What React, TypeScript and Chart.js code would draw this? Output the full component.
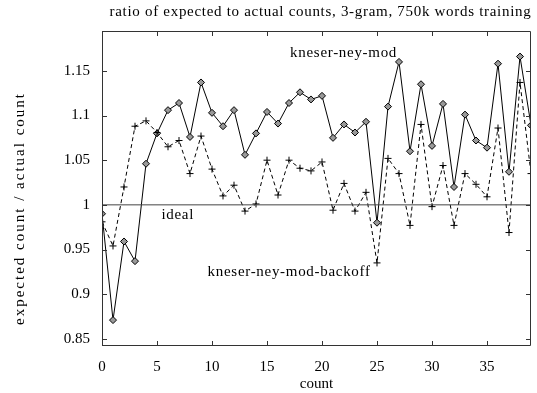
import React, { useEffect, useRef } from "react";
import { Chart, registerables } from "chart.js";

Chart.register(...registerables);

const titleText = "ratio of expected to actual counts, 3-gram, 750k words training";
const xTitle = "count";
const yTitle = "expected count / actual count";

const counts = [
  0, 1, 2, 3, 4, 5, 6, 7, 8, 9, 10, 11, 12, 13, 14, 15, 16, 17, 18, 19,
  20, 21, 22, 23, 24, 25, 26, 27, 28, 29, 30, 31, 32, 33, 34, 35, 36, 37, 38, 39,
];

const kneserNeyMod = [
  0.990, 0.871, 0.959, 0.937, 1.046, 1.080, 1.106, 1.114, 1.076, 1.137,
  1.103, 1.088, 1.106, 1.056, 1.080, 1.104, 1.091, 1.114, 1.126, 1.118,
  1.122, 1.075, 1.090, 1.081, 1.093, 0.980, 1.110, 1.160, 1.060, 1.135,
  1.066, 1.113, 1.020, 1.101, 1.072, 1.064, 1.158, 1.037, 1.166, 1.089,
];

const kneserNeyModBackoff = [
  0.981, 0.954, 1.020, 1.088, 1.094, 1.081, 1.065, 1.072, 1.035, 1.077,
  1.040, 1.010, 1.022, 0.993, 1.001, 1.050, 1.011, 1.050, 1.041, 1.038,
  1.048, 0.994, 1.024, 0.993, 1.014, 0.935, 1.052, 1.035, 0.977, 1.090,
  0.998, 1.044, 0.977, 1.035, 1.023, 1.009, 1.086, 0.969, 1.137, 1.035,
];

const idealValue = 1;

const xTicks = [0, 5, 10, 15, 20, 25, 30, 35];
const yTicks = [0.85, 0.9, 0.95, 1, 1.05, 1.1, 1.15];

// text labels placed in data coordinates: [text, x, y]
const labels: [string, number, number][] = [
  ["kneser-ney-mod", 17.1, 1.170],
  ["kneser-ney-mod-backoff", 9.6, 0.925],
  ["ideal", 5.4, 0.989],
];

const FONT = '"Liberation Serif", "Times New Roman", serif';

const framePlugin = {
  id: "gnuplotFrame",
  afterDatasetsDraw(chart: any) {
    const { ctx, chartArea, scales } = chart;
    const { left, right, top, bottom } = chartArea;
    const xs = scales.x;
    const ys = scales.y;
    ctx.save();
    ctx.strokeStyle = "#333";
    ctx.lineWidth = 1;
    ctx.beginPath();
    ctx.rect(left + 0.5, top + 0.5, right - left - 1, bottom - top - 1);
    ctx.stroke();
    const tl = 5;
    ctx.beginPath();
    xTicks.forEach((v) => {
      const px = Math.round(xs.getPixelForValue(v)) + 0.5;
      ctx.moveTo(px, bottom);
      ctx.lineTo(px, bottom - tl);
      ctx.moveTo(px, top);
      ctx.lineTo(px, top + tl);
    });
    yTicks.forEach((v) => {
      const py = Math.round(ys.getPixelForValue(v)) + 0.5;
      ctx.moveTo(left, py);
      ctx.lineTo(left + tl, py);
      ctx.moveTo(right, py);
      ctx.lineTo(right - tl, py);
    });
    ctx.stroke();

    ctx.fillStyle = "#000";
    ctx.font = `15px ${FONT}`;
    ctx.textBaseline = "middle";
    ctx.textAlign = "left";
    (ctx as any).letterSpacing = "0.7px";
    labels.forEach(([t, x, y]) => {
      ctx.fillText(t, xs.getPixelForValue(x), ys.getPixelForValue(y));
    });

    ctx.textAlign = "center";
    ctx.fillText(titleText, (left + right) / 2 + 4, 12);

    // y axis title, rotated
    (ctx as any).letterSpacing = "2px";
    ctx.translate(20, (top + bottom) / 2 + 20);
    ctx.rotate(-Math.PI / 2);
    ctx.fillText(yTitle, 0, 0);
    ctx.restore();
  },
};

export default function App() {
  const ref = useRef<HTMLCanvasElement | null>(null);

  useEffect(() => {
    document.body.style.margin = "0";
    const canvas = ref.current;
    if (!canvas) return;
    const toPts = (arr: number[]) => counts.map((c, i) => ({ x: c, y: arr[i] }));
    const chart = new Chart(canvas, {
      type: "line",
      data: {
        datasets: [
          {
            label: "ideal",
            data: [
              { x: counts[0], y: idealValue },
              { x: counts[counts.length - 1], y: idealValue },
            ],
            borderColor: "#444",
            borderWidth: 1,
            pointRadius: 0,
            fill: false,
          },
          {
            label: "kneser-ney-mod-backoff",
            data: toPts(kneserNeyModBackoff),
            borderColor: "#000",
            borderWidth: 1,
            borderDash: [4, 3],
            pointStyle: "cross",
            pointRadius: 3.5,
            pointBorderColor: "#000",
            pointBorderWidth: 1,
            fill: false,
            tension: 0,
          },
          {
            label: "kneser-ney-mod",
            data: toPts(kneserNeyMod),
            borderColor: "#000",
            borderWidth: 1,
            pointStyle: "rectRot",
            pointRadius: 3.5,
            pointBackgroundColor: "#999",
            pointBorderColor: "#000",
            pointBorderWidth: 1,
            fill: false,
            tension: 0,
          },
        ],
      },
      options: {
        responsive: false,
        animation: false,
        devicePixelRatio: 1,
        layout: { padding: { top: 31, right: 6, left: 0, bottom: 0 } },
        plugins: {
          legend: { display: false },
          tooltip: { enabled: false },
          title: { display: false },
        },
        scales: {
          x: {
            type: "linear",
            min: 0,
            max: 39,
            grid: { display: false, drawTicks: false },
            border: { display: false },
            afterBuildTicks: (s: any) => {
              s.ticks = xTicks.map((v) => ({ value: v }));
            },
            afterFit: (s: any) => {
              s.height = 47;
            },
            ticks: {
              padding: 12,
              color: "#000",
              font: { family: FONT, size: 15 },
              maxRotation: 0,
              autoSkip: false,
            },
            title: {
              display: true,
              text: xTitle,
              color: "#000",
              font: { family: FONT, size: 15 },
              padding: { top: 0, bottom: 0 },
            },
          },
          y: {
            type: "linear",
            min: 0.842,
            max: 1.1946,
            grid: { display: false, drawTicks: false },
            border: { display: false },
            afterBuildTicks: (s: any) => {
              s.ticks = yTicks.map((v) => ({ value: v }));
            },
            afterFit: (s: any) => {
              s.width = 102;
            },
            ticks: {
              padding: 12,
              color: "#000",
              font: { family: FONT, size: 15 },
              autoSkip: false,
              callback: (v: any) => String(Number(Number(v).toFixed(2))),
            },
            title: { display: false },
          },
        },
      },
      plugins: [framePlugin],
    });
    return () => chart.destroy();
  }, []);

  return (
    <div style={{ width: 537, height: 393 }}>
      <canvas ref={ref} width={537} height={393} style={{ display: "block" }} />
    </div>
  );
}
